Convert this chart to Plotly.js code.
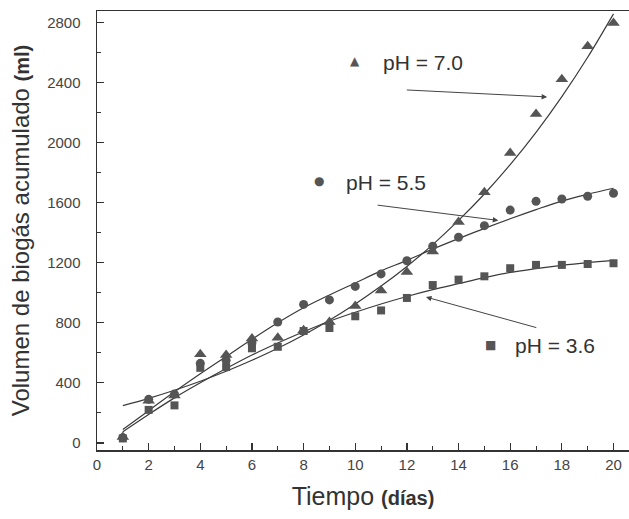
<!DOCTYPE html>
<html>
<head>
<meta charset="utf-8">
<script src="https://cdn.plot.ly/plotly-3.0.1.min.js"></script>
<style>html,body{margin:0;padding:0;background:#fff;}#chart{width:629px;height:519px;}</style>
</head>
<body>
<div id="chart"></div>
<script>
// Days (x)
const days = [1,2,3,4,5,6,7,8,9,10,11,12,13,14,15,16,17,18,19,20];

// Measured accumulated biogas (ml)
const ph70 = [40,280,315,590,585,695,700,750,805,912,1015,1138,1275,1470,1668,1930,2190,2420,2640,2795];
const ph55 = [35,290,325,530,550,665,805,922,952,1042,1125,1213,1309,1369,1446,1550,1608,1624,1642,1662];
const ph36 = [30,220,250,500,505,630,640,745,765,843,882,965,1051,1087,1109,1163,1185,1185,1191,1196];

// Fitted curves (ml)
const fit70 = [248,297,351,411,477,550,630,719,817,925,1044,1175,1320,1481,1657,1852,2067,2305,2567,2856];
const fit55 = [90,215,340,460,575,690,800,900,985,1065,1145,1215,1290,1360,1428,1492,1553,1610,1655,1695];
const fit36 = [75,190,300,400,495,585,665,740,810,870,925,975,1020,1060,1100,1135,1160,1182,1200,1215];

// Labels
const seriesNames = ['pH = 7.0','pH = 5.5','pH = 3.6'];
const xTicks = [0,2,4,6,8,10,12,14,16,18,20];
const yTicks = [0,400,800,1200,1600,2000,2400,2800];

const mk = '#555555';
const lc = '#3a3a3a';

const traces = [
  {x: days, y: fit70, mode:'lines', line:{color:lc, width:1.2, shape:'spline'}, hoverinfo:'skip'},
  {x: days, y: fit55, mode:'lines', line:{color:lc, width:1.2, shape:'spline'}, hoverinfo:'skip'},
  {x: days, y: fit36, mode:'lines', line:{color:lc, width:1.2, shape:'spline'}, hoverinfo:'skip'},
  {x: days, y: ph36, mode:'markers', name: seriesNames[2], marker:{symbol:'square', size:8, color:mk}},
  {x: days, y: ph55, mode:'markers', name: seriesNames[1], marker:{symbol:'circle', size:9, color:mk}},
  {x: days, y: ph70, mode:'markers', name: seriesNames[0], marker:{symbol:'triangle-up', size:11, color:mk}}
];

const labFont = {family:'Liberation Sans, Arial, sans-serif', size:21, color:'#333'};
const symFont = {family:'DejaVu Sans, sans-serif', size:12, color:mk};

function arrow(x, y, ax, ay){
  return {x:x, y:y, ax:ax, ay:ay, xref:'x', yref:'y', axref:'x', ayref:'y', text:'',
    showarrow:true, arrowhead:2, arrowsize:1.1, arrowwidth:1, arrowcolor:'#444'};
}

const layout = {
  width:629, height:519,
  margin:{l:97, r:0, t:11, b:69},
  paper_bgcolor:'#ffffff', plot_bgcolor:'#ffffff',
  showlegend:false,
  font:{family:'Liberation Sans, Arial, sans-serif', color:'#333'},
  xaxis:{
    range:[0,20.6], tickmode:'array', tickvals:xTicks, ticktext:xTicks.map(String),
    ticks:'inside', ticklen:7, tickwidth:1.2, tickcolor:'#333',
    minor:{dtick:1, ticks:'inside', ticklen:4, tickwidth:1, tickcolor:'#333'},
    showline:true, linecolor:'#333', linewidth:1.5, mirror:true,
    showgrid:false, zeroline:false,
    tickfont:{size:15, color:'#444'},
    title:{text:'Tiempo <span style="font-size:20px"><b>(días)</b></span>', font:{size:25, color:'#333'}, standoff:16}
  },
  yaxis:{
    range:[-47,2875], tickmode:'array', tickvals:yTicks, ticktext:yTicks.map(String),
    ticks:'inside', ticklen:7, tickwidth:1.2, tickcolor:'#333',
    minor:{dtick:200, ticks:'inside', ticklen:4, tickwidth:1, tickcolor:'#333'},
    showline:true, linecolor:'#333', linewidth:1.5,
    showgrid:false, zeroline:false,
    tickfont:{size:15, color:'#444'}, ticklabelstandoff:12,
    title:{text:'Volumen de biogás acumulado <span style="font-size:20px"><b>(ml)</b></span>', font:{size:24, color:'#333'}, standoff:10}
  },
  annotations:[
    {x:10.0, y:2540, xref:'x', yref:'y', text:'▲', showarrow:false, font:symFont},
    {x:11.0, y:2535, xref:'x', yref:'y', xanchor:'left', text:seriesNames[0], showarrow:false, font:labFont},
    {x:8.61, y:1742, xref:'x', yref:'y', text:'●', showarrow:false, font:symFont},
    {x:9.55, y:1731, xref:'x', yref:'y', xanchor:'left', text:seriesNames[1], showarrow:false, font:labFont},
    {x:15.23, y:652, xref:'x', yref:'y', text:'■', showarrow:false, font:symFont},
    {x:16.1, y:647, xref:'x', yref:'y', xanchor:'left', text:seriesNames[2], showarrow:false, font:labFont},
    arrow(17.43, 2303, 11.94, 2350),
    arrow(15.54, 1481, 10.81, 1584),
    arrow(12.74, 971, 17.07, 765)
  ]
};

Plotly.newPlot('chart', traces, layout, {displayModeBar:false, staticPlot:true});
</script>
</body>
</html>
